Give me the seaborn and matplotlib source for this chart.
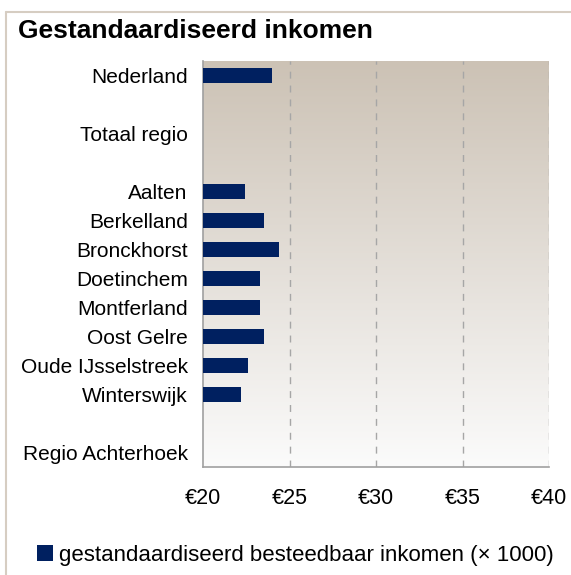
# Horizontal bar chart: standardised disposable income per municipality
import matplotlib.pyplot as plt
import matplotlib.lines as mlines
import numpy as np
import pandas as pd
import seaborn as sns

# Data (x 1000 euro)
regions = ['Nederland', ' ', 'Totaal regio', '  ', 'Aalten', 'Berkelland',
           'Bronckhorst', 'Doetinchem', 'Montferland', 'Oost Gelre',
           'Oude IJsselstreek', 'Winterswijk', '   ', 'Regio Achterhoek']
income = [24.0, np.nan, np.nan, np.nan, 22.4, 23.5,
          24.4, 23.3, 23.3, 23.5,
          22.6, 22.2, np.nan, np.nan]
x_ticks = [20, 25, 30, 35, 40]
x_tick_labels = ['€20', '€25', '€30', '€35', '€40']

df = pd.DataFrame({'regio': regions, 'inkomen': income})

sns.set_style('white')
plt.rcParams['font.family'] = ['Liberation Sans', 'DejaVu Sans']
plt.rcParams['text.color'] = 'black'
plt.rcParams['xtick.labelcolor'] = 'black'
plt.rcParams['ytick.labelcolor'] = 'black'

fig = plt.figure(figsize=(5.71, 5.75), dpi=100)
ax = fig.add_axes([203 / 571, 1 - 467 / 575, 346 / 571, 406 / 575])

# Background gradient (tan at the top, almost white at the bottom)
top = np.array([0xcc, 0xc2, 0xb5]) / 255
bottom = np.array([0xfb, 0xfb, 0xfb]) / 255
t = np.linspace(0, 1, 256)[:, None]
grad = (top * (1 - t) + bottom * t)[:, None, :]
ax.imshow(grad, extent=[20, 40, len(regions) - 0.5, -0.5], aspect='auto', zorder=0)

sns.barplot(data=df, x='inkomen', y='regio', order=regions, orient='h',
            color='#002060', width=0.5, saturation=1, linewidth=0, ax=ax, zorder=3,
            label='gestandaardiseerd besteedbaar inkomen (× 1000)')

ax.set_xlim(20, 40)
ax.set_ylim(len(regions) - 0.5, -0.5)
ax.set_xlabel('')
ax.set_ylabel('')

# Dashed grid lines
for x in x_ticks[1:]:
    ax.axvline(x, color='#a6a6a6', linestyle=(0, (5, 5)), linewidth=1, zorder=1)

ax.set_xticks(x_ticks)
ax.set_xticklabels(x_tick_labels, fontsize=15.5)
ax.tick_params(axis='x', length=5, color='#a0a0a0', width=1, pad=10)
ax.tick_params(axis='y', which='major', length=0, pad=11, labelsize=15)
ax.set_yticks(np.arange(-0.5, len(regions)), minor=True)
ax.tick_params(axis='y', which='minor', length=5, color='#a0a0a0', width=1)

for side in ['top', 'right']:
    ax.spines[side].set_visible(False)
for side in ['left', 'bottom']:
    ax.spines[side].set_color('#a0a0a0')
    ax.spines[side].set_linewidth(1.2)

# Title
fig.text(18 / 571, 1 - 38 / 575, 'Gestandaardiseerd inkomen',
         fontsize=19, fontweight='bold', va='baseline')

# Legend at the bottom
ax.legend(loc='center left', bbox_to_anchor=(17 / 571, 1 - 555 / 575),
          bbox_transform=fig.transFigure, frameon=False, fontsize=16,
          handlelength=0.7, handleheight=0.7, handletextpad=0.3)

# Outer frame (only left and top visible)
frame = '#d6cdc2'
fig.add_artist(mlines.Line2D([6 / 571, 6 / 571], [0, 1 - 12 / 575],
                             color=frame, linewidth=1.5, transform=fig.transFigure))
fig.add_artist(mlines.Line2D([6 / 571, 1], [1 - 12 / 575, 1 - 12 / 575],
                             color=frame, linewidth=1.5, transform=fig.transFigure))

fig.savefig('out.png', dpi=100)
